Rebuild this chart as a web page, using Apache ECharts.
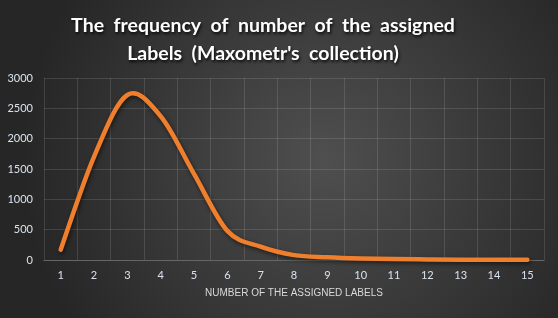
<!DOCTYPE html>
<html>
<head>
<meta charset="utf-8">
<script src="https://cdn.jsdelivr.net/npm/echarts@6/dist/echarts.min.js"></script>
<style>html,body{margin:0;padding:0;background:#333;}#c{width:558px;height:318px;}</style>
</head>
<body>
<div id="c"></div>
<script>
const categories = ['1','2','3','4','5','6','7','8','9','10','11','12','13','14','15'];
const frequency = [170, 1700, 2720, 2370, 1420, 480, 220, 80, 45, 25, 15, 10, 6, 5, 4];
const yTicks = [0, 500, 1000, 1500, 2000, 2500, 3000];
const titleText = 'The  frequency  of  number  of  the  assigned\nLabels  (Maxometr\'s  collection)';
const xName = 'NUMBER OF THE ASSIGNED LABELS';

// Excel-like smoothed line (Catmull-Rom through the data points, mapped by the axes)
function renderCurve(params, api) {
  if (params.dataIndex !== 0) return null;
  const pts = frequency.map((v, i) => api.coord([i, v]));
  const n = pts.length;
  let d = 'M' + pts[0][0] + ' ' + pts[0][1];
  for (let i = 0; i < n - 1; i++) {
    const p0 = pts[Math.max(i - 1, 0)], p1 = pts[i], p2 = pts[i + 1], p3 = pts[Math.min(i + 2, n - 1)];
    const c1x = p1[0] + (p2[0] - p0[0]) / 6, c1y = p1[1] + (p2[1] - p0[1]) / 6;
    const c2x = p2[0] - (p3[0] - p1[0]) / 6, c2y = p2[1] - (p3[1] - p1[1]) / 6;
    d += ' C' + c1x + ' ' + c1y + ' ' + c2x + ' ' + c2y + ' ' + p2[0] + ' ' + p2[1];
  }
  return {
    type: 'path',
    shape: {pathData: d},
    style: {
      fill: null, stroke: '#f07f2d', lineWidth: 4.5, lineCap: 'round', lineJoin: 'round',
      shadowColor: 'rgba(0,0,0,0.55)', shadowBlur: 4, shadowOffsetX: 1, shadowOffsetY: 2
    }
  };
}

const chart = echarts.init(document.getElementById('c'));
chart.setOption({
  animation: false,
  backgroundColor: {
    type: 'radial', x: 0.58, y: 0.5, r: 0.95,
    colorStops: [{offset: 0, color: '#4f4f4f'}, {offset: 1, color: '#262626'}]
  },
  title: {
    text: titleText,
    left: 258,
    top: 7,
    textAlign: 'center',
    textStyle: {
      color: '#ffffff',
      fontFamily: 'Lato',
      fontWeight: 'bold',
      fontSize: 19.5,
      lineHeight: 28,
      textShadowColor: 'rgba(0,0,0,0.85)',
      textShadowBlur: 3,
      textShadowOffsetX: 1,
      textShadowOffsetY: 2
    }
  },
  grid: {left: 44, right: 14, top: 78, bottom: 58},
  xAxis: {
    type: 'category',
    data: categories,
    boundaryGap: true,
    name: xName,
    nameLocation: 'middle',
    nameGap: 28,
    nameTextStyle: {color: '#d9d9d9', fontSize: 10, fontFamily: 'Liberation Sans'},
    axisLine: {lineStyle: {color: '#666666'}},
    axisTick: {show: false},
    axisLabel: {color: '#d9e2ee', fontSize: 11, margin: 10, fontFamily: 'Lato'},
    splitLine: {show: true, lineStyle: {color: 'rgba(255,255,255,0.12)'}}
  },
  yAxis: {
    type: 'value',
    min: yTicks[0],
    max: yTicks[yTicks.length - 1],
    interval: yTicks[1] - yTicks[0],
    axisLine: {show: false},
    axisTick: {show: false},
    axisLabel: {color: '#d9e2ee', fontSize: 11, margin: 11, fontFamily: 'Lato', formatter: v => String(v)},
    splitLine: {lineStyle: {color: 'rgba(255,255,255,0.12)'}}
  },
  series: [{
    type: 'custom',
    renderItem: renderCurve,
    data: frequency.map((v, i) => [i, v]),
    encode: {x: 0, y: 1},
    clip: false
  }]
});
</script>
</body>
</html>
